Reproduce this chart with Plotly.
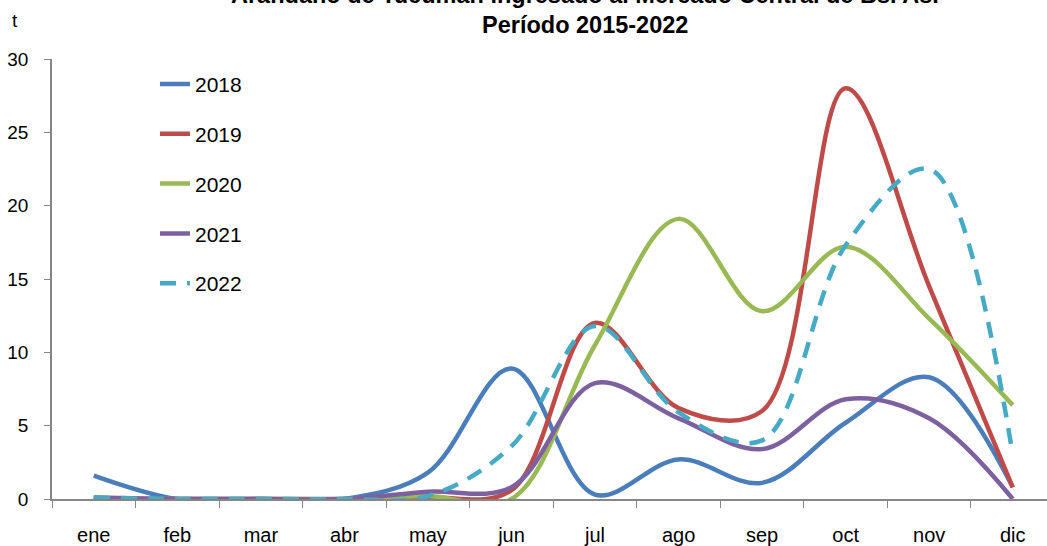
import plotly.graph_objects as go

months = ["ene", "feb", "mar", "abr", "may", "jun", "jul", "ago", "sep", "oct", "nov", "dic"]
y2018 = [1.6, 0, 0, 0, 1.8, 8.9, 0.3, 2.7, 1.1, 5.2, 8.3, 0.8]
y2019 = [0, 0, 0, 0, 0.1, 0.6, 12.0, 6.2, 6.0, 28.0, 14.5, 0.8]
y2020 = [0, 0, 0, 0, 0.2, 0, 10.5, 19.1, 12.8, 17.2, 12.3, 6.4]
y2021 = [0.1, 0, 0, 0, 0.5, 0.8, 7.9, 5.5, 3.4, 6.8, 5.5, 0]
y2022 = [0.1, 0, 0, 0, 0.2, 3.6, 11.8, 5.9, 4.0, 17.3, 22.5, 3.0]

title_line1 = "Arándano de Tucumán ingresado al Mercado Central de Bs. As."
title_line2 = "Período 2015-2022"
unit_label = "t"

series = [
    ("2018", y2018, "#4A7EBB", "solid"),
    ("2019", y2019, "#BE4B48", "solid"),
    ("2020", y2020, "#98B954", "solid"),
    ("2021", y2021, "#7D60A0", "solid"),
    ("2022", y2022, "#46AAC5", "16px,11px"),
]

FONT = "Liberation Sans, Arial, sans-serif"

fig = go.Figure()
for name, vals, color, dash in series:
    fig.add_trace(go.Scatter(
        x=months, y=vals, name=name, mode="lines",
        line=dict(color=color, width=4.5, shape="spline", smoothing=1, dash=dash),
        legendgroup=name,
    ))


def px(X):
    return (X - 52) / 995


def py(Y):
    return (499 - Y) / 440


fig.update_layout(
    width=1047, height=546,
    margin=dict(l=52, r=0, t=59, b=47),
    paper_bgcolor="white", plot_bgcolor="white",
    font=dict(family=FONT, size=20, color="black"),
    showlegend=True,
    legend=dict(
        x=0.1035, y=0.989, xanchor="left", yanchor="top",
        font=dict(size=21, color="black"),
        tracegroupgap=19.5, bgcolor="rgba(0,0,0,0)",
    ),
    xaxis=dict(
        type="category", range=[-0.5, 11.41], automargin=False,
        showline=True, linecolor="#868686", linewidth=1.5,
        ticks="outside", tickson="boundaries", ticklen=7, tickcolor="#868686",
        tickfont=dict(size=20), showgrid=False, zeroline=False,
        ticklabelstandoff=17,
    ),
    yaxis=dict(
        range=[0, 30], dtick=5, automargin=False,
        showline=True, linecolor="#868686", linewidth=1.5,
        ticks="outside", ticklen=6, tickcolor="#868686",
        tickfont=dict(size=19), showgrid=False, zeroline=False,
        ticklabelstandoff=12,
    ),
    annotations=[
        dict(text=title_line1, xref="paper", yref="paper", x=px(585), y=py(-5),
             xanchor="center", yanchor="middle", showarrow=False,
             font=dict(family=FONT, size=23.5, color="black", weight="bold")),
        dict(text=title_line2, xref="paper", yref="paper", x=px(584.5), y=py(24.5),
             xanchor="center", yanchor="middle", showarrow=False,
             font=dict(family=FONT, size=23.5, color="black", weight="bold")),
        dict(text=unit_label, xref="paper", yref="paper", x=px(15), y=py(20),
             xanchor="center", yanchor="middle", showarrow=False,
             font=dict(family=FONT, size=19, color="black")),
    ],
)

fig.write_html("out.html", config={"displayModeBar": False},
               post_script="document.body.style.margin='0px';")
